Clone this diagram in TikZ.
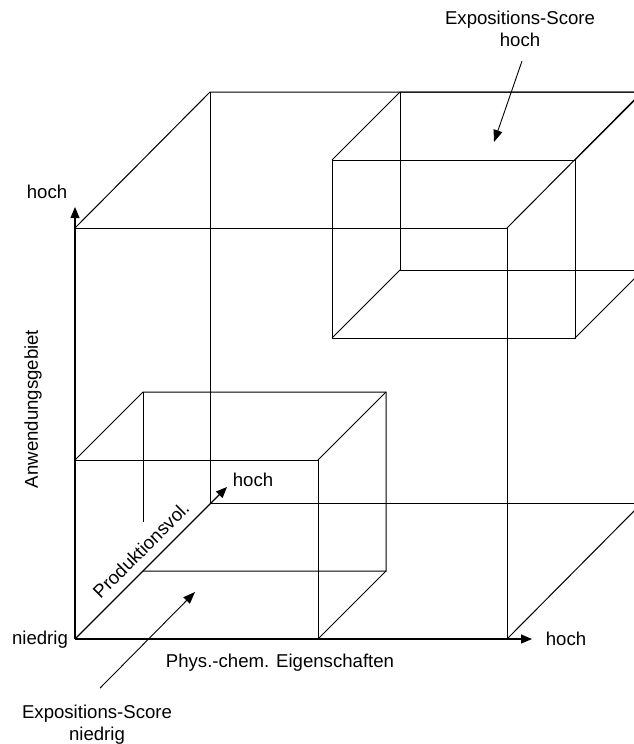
\documentclass[tikz,border=0pt]{standalone}
\usepackage{fontspec}
\setmainfont{Liberation Sans}
\usetikzlibrary{arrows.meta}
\begin{document}
\begin{tikzpicture}[x=1pt,y=-1pt,
  edge/.style={line width=1pt, black},
  axis/.style={line width=1.1pt, -{Triangle[length=11pt,width=9pt]}},
  pointer/.style={line width=0.9pt, -{Triangle[length=12pt,width=9pt]}},
  lbl/.style={font=\fontsize{18.6}{22}\selectfont, inner sep=0pt, align=center}]
\useasboundingbox (0,0) rectangle (634,744);
\clip (0,0) rectangle (634,744);

% ---- large box (front face and back face) ----
\coordinate (Ofbl) at (75,639);  \coordinate (Ofbr) at (507,639);
\coordinate (OfTr) at (507,228); \coordinate (Oftl) at (75,228);
\coordinate (Obbl) at (210,503); \coordinate (Obbr) at (642,503);
\coordinate (Obtr) at (642,92);  \coordinate (Obtl) at (210,92);

% ---- small box at the low corner ----
\coordinate (Lfbr) at (318,639); \coordinate (Lftr) at (318,460);
\coordinate (Lftl) at (75,460);
\coordinate (Lbbl) at (143,571); \coordinate (Lbbr) at (386,571);
\coordinate (Lbtr) at (386,392); \coordinate (Lbtl) at (143,392);
\coordinate (Lbcut) at (143,522);

% ---- small box at the high corner ----
\coordinate (Hfbl) at (332,338); \coordinate (Hfbr) at (575,338);
\coordinate (Hftr) at (575,160); \coordinate (Hftl) at (332,160);
\coordinate (Hbbl) at (400,270); \coordinate (Hbbr) at (643,270);
\coordinate (Hbtr) at (643,92);  \coordinate (Hbtl) at (400,92);

% axis end points
\coordinate (Xend) at (532,639);
\coordinate (Yend) at (75,207);
\coordinate (Zend) at (227,487);

% large box edges
\draw[edge] (Oftl) -- (OfTr) -- (Ofbr);
\draw[edge] (Oftl) -- (Obtl) -- (Obtr);
\draw[edge] (Obtl) -- (Obbl) -- (Obbr);
\draw[edge] (OfTr) -- (Obtr);
\draw[edge] (Ofbr) -- (Obbr);

% low box edges
\draw[edge] (Lftl) -- (Lftr) -- (Lfbr);
\draw[edge] (Lftl) -- (Lbtl) -- (Lbtr) -- (Lbbr) -- (Lbbl);
\draw[edge] (Lftr) -- (Lbtr);
\draw[edge] (Lfbr) -- (Lbbr);
\draw[edge] (Lbtl) -- (Lbcut);

% high box edges
\draw[edge] (Hftl) -- (Hftr) -- (Hfbr) -- (Hfbl) -- cycle;
\draw[edge] (Hftl) -- (Hbtl) -- (Hbtr);
\draw[edge] (Hbtl) -- (Hbbl) -- (Hbbr);
\draw[edge] (Hfbl) -- (Hbbl);
\draw[edge] (Hftr) -- (Hbtr);
\draw[edge] (Hfbr) -- (Hbbr);

% axes
\draw[axis] (Ofbl) -- (Xend);
\draw[axis] (Ofbl) -- (Yend);
\draw[axis] (Ofbl) -- (Zend);

% axis labels
\node[lbl] (xhi) at (566,639) {hoch};
\node[lbl] (yhi) at (47,192) {hoch};
\node[lbl] (zhi) at (253,480) {hoch};
\node[lbl] (lo) at (40,640) {niedrig};
\node[lbl] (xname) at (280,663) {Phys.-chem. Eigenschaften};
\node[lbl, rotate=90] (yname) at (33,409) {Anwendungsgebiet};
\node[lbl, rotate=45] (zname) at (141,550) {Produktionsvol.};

% score labels with pointers
\node[lbl] (scorehi) at (520,29) {Expositions-Score\\hoch};
\node[lbl] (scorelo) at (97,725) {Expositions-Score\\niedrig};
\coordinate (hiTip) at (494,142);
\coordinate (loTip) at (195,592);
\draw[pointer] (scorehi.south) ++(2,14) coordinate (hiStart) (hiStart) -- (hiTip);
\draw[pointer] (scorelo.north) ++(3,-17) coordinate (loStart) (loStart) -- (loTip);
\end{tikzpicture}
\end{document}
